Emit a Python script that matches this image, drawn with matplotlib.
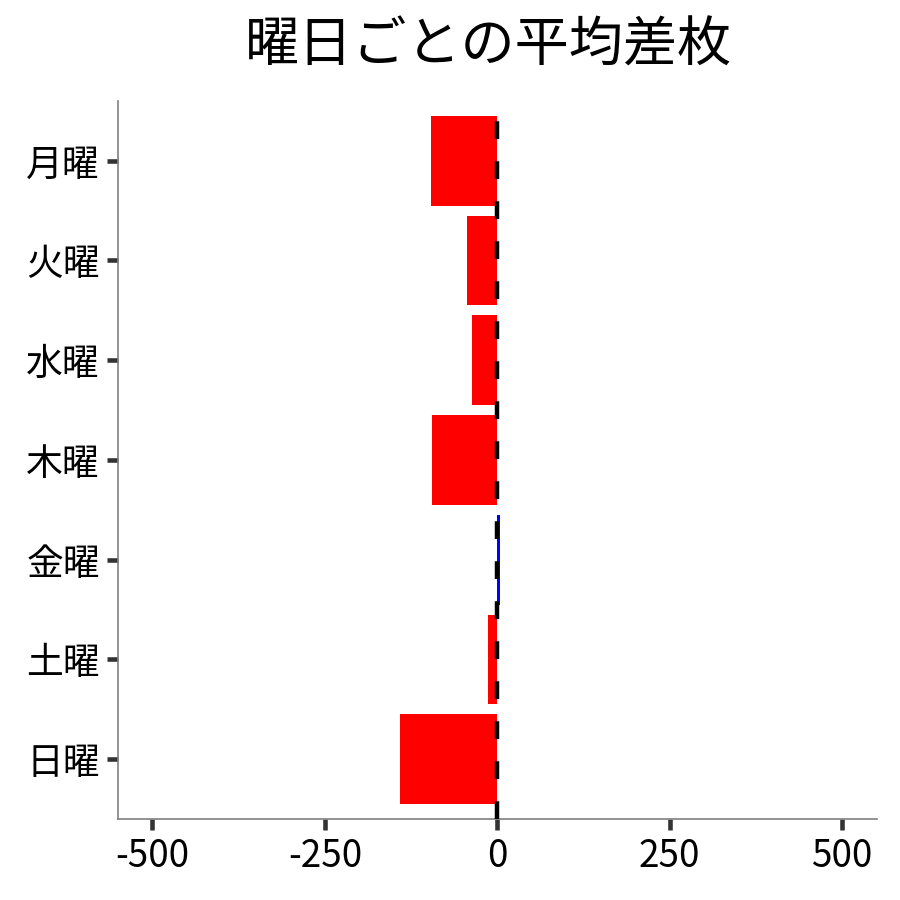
import matplotlib
matplotlib.use("Agg")
import matplotlib.pyplot as plt
import numpy as np

plt.rcParams['font.family'] = ['Noto Sans CJK JP', 'DejaVu Sans']

days = ["月曜", "火曜", "水曜", "木曜", "金曜", "土曜", "日曜"]
avg_diff = [-96, -44, -36, -94, 4, -14, -141]
x_ticks = [-500, -250, 0, 250, 500]

colors = ["#0000ff" if v > 0 else "#ff0000" for v in avg_diff]
y_pos = np.arange(len(days))

fig = plt.figure(figsize=(9, 9), dpi=100)
ax = fig.add_axes([0.131, 0.09, 0.843, 0.798])

ax.barh(y_pos, avg_diff, height=0.9, color=colors, zorder=2)
ax.axvline(0, color="black", linewidth=3.2, linestyle=(0, (4, 5)), zorder=3)

ax.set_yticks(y_pos)
ax.set_yticklabels(days)
ax.set_xticks(x_ticks)
ax.set_xticklabels([str(t) for t in x_ticks])
ax.set_xlim(-550, 550)
ax.set_ylim(6.6, -0.6)

ax.tick_params(labelsize=26.5, length=8, width=3.3, color="#333333", pad=5)
for side in ["top", "right"]:
    ax.spines[side].set_visible(False)
for side in ["left", "bottom"]:
    ax.spines[side].set_color("#808080")
    ax.spines[side].set_linewidth(1.2)

ax.set_title("曜日ごとの平均差枚", fontsize=39, pad=28, x=0.489)

plt.savefig("out.png", dpi=100)
